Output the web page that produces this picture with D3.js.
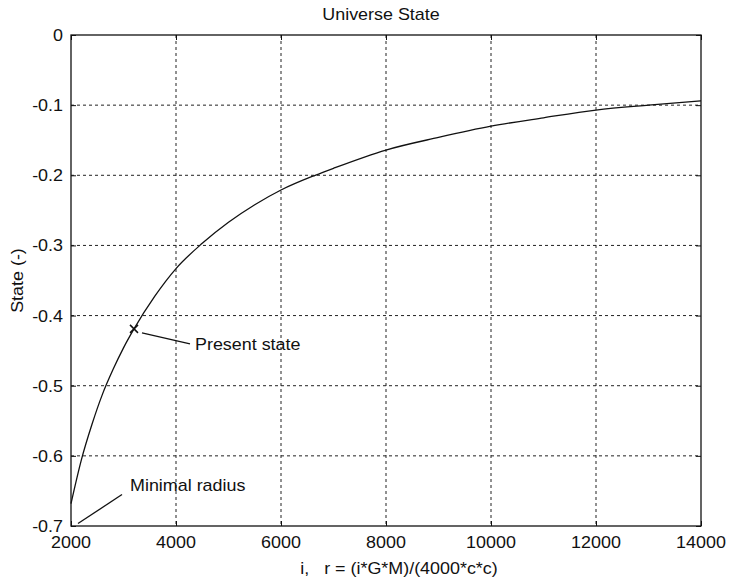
<!DOCTYPE html>
<html>
<head>
<meta charset="utf-8">
<script src="https://cdn.jsdelivr.net/npm/d3@7"></script>
<style>
  body { margin: 0; background: #fff; }
  svg { display: block; }
  text { font-family: "Liberation Sans", Arial, sans-serif; fill: #111; white-space: pre; }
</style>
</head>
<body>
<div id="chart"></div>
<script>
// values
const iValues = [2000, 2200, 2400, 2600, 2800, 3000, 3200, 3600, 4000, 4500, 5000, 5500, 6000, 6650, 7000, 8000, 9000, 10000, 11000, 12000, 13000, 14000];
const stateValues = [-0.668, -0.605, -0.555, -0.512, -0.477, -0.446, -0.419, -0.372, -0.333, -0.297, -0.267, -0.242, -0.221, -0.200, -0.190, -0.164, -0.146, -0.130, -0.118, -0.107, -0.100, -0.094];
const xTicks = [2000, 4000, 6000, 8000, 10000, 12000, 14000];
const yTicks = [0, -0.1, -0.2, -0.3, -0.4, -0.5, -0.6, -0.7];
const presentState = { i: 3200, state: -0.419 };
const minimalRadius = { i: 2000, state: -0.668 };

const W = 731, H = 581;
const margin = { top: 35, right: 30, bottom: 55, left: 71 };
const width = W - margin.left - margin.right;
const height = H - margin.top - margin.bottom;
const stretch = 1.12; // the scan is a bit wider than tall

const svg = d3.select('#chart')
  .append('svg')
  .attr('width', W)
  .attr('height', H);

const g = svg.append('g')
  .attr('transform', `translate(${margin.left},${margin.top})`);

const x = d3.scaleLinear().domain([2000, 14000]).range([0, width]);
const y = d3.scaleLinear().domain([-0.7, 0]).range([height, 0]);

function label(parent, tx, ty, str, anchor, size) {
  return parent.append('text')
    .attr('transform', `translate(${tx},${ty}) scale(${stretch},1)`)
    .attr('text-anchor', anchor || 'start')
    .attr('font-size', size || 16)
    .text(str);
}

// grid
g.append('g')
  .selectAll('line')
  .data(xTicks.slice(1, -1))
  .join('line')
  .attr('x1', d => x(d)).attr('x2', d => x(d))
  .attr('y1', 0).attr('y2', height)
  .attr('stroke', '#222')
  .attr('stroke-width', 1)
  .attr('stroke-dasharray', '3,3');

g.append('g')
  .selectAll('line')
  .data(yTicks.slice(1, -1))
  .join('line')
  .attr('y1', d => y(d)).attr('y2', d => y(d))
  .attr('x1', 0).attr('x2', width)
  .attr('stroke', '#222')
  .attr('stroke-width', 1)
  .attr('stroke-dasharray', '3,3');

// box
g.append('rect')
  .attr('width', width)
  .attr('height', height)
  .attr('fill', 'none')
  .attr('stroke', '#111')
  .attr('stroke-width', 1.3);

// ticks (inward, both sides)
const xAxisB = g.append('g')
  .attr('transform', `translate(0,${height})`)
  .call(d3.axisBottom(x).tickValues(xTicks).tickSize(-5).tickFormat(''));
const xAxisT = g.append('g')
  .call(d3.axisTop(x).tickValues(xTicks).tickSize(-5).tickFormat(''));
const yAxisL = g.append('g')
  .call(d3.axisLeft(y).tickValues(yTicks).tickSize(-5).tickFormat(''));
const yAxisR = g.append('g')
  .attr('transform', `translate(${width},0)`)
  .call(d3.axisRight(y).tickValues(yTicks).tickSize(-5).tickFormat(''));
[xAxisB, xAxisT, yAxisL, yAxisR].forEach(a => {
  a.select('.domain').remove();
  a.selectAll('line').attr('stroke', '#111');
});

// tick labels
const fmtY = d => d === 0 ? '0' : d3.format('.1f')(d).replace('\u2212', '-');
xTicks.forEach(d => label(g, x(d), height + 22, d, 'middle'));
yTicks.forEach(d => label(g, -8, y(d) + 6, fmtY(d), 'end'));

// curve
const pts = iValues.map((v, k) => [v, stateValues[k]]);
g.append('path')
  .datum(pts)
  .attr('fill', 'none')
  .attr('stroke', '#111')
  .attr('stroke-width', 1.3)
  .attr('d', d3.line().x(d => x(d[0])).y(d => y(d[1])).curve(d3.curveMonotoneX));

// present state marker
const px = x(presentState.i), py = y(presentState.state);
g.append('path')
  .attr('d', `M${px - 4},${py - 4}L${px + 4},${py + 4}M${px - 4},${py + 4}L${px + 4},${py - 4}`)
  .attr('stroke', '#111')
  .attr('stroke-width', 1.5);
g.append('line')
  .attr('x1', px + 8).attr('y1', py + 4)
  .attr('x2', px + 56).attr('y2', py + 15)
  .attr('stroke', '#111').attr('stroke-width', 1.3);
label(g, px + 61, py + 21, 'Present state', 'start');

// minimal radius annotation
const mx = x(minimalRadius.i), my = y(minimalRadius.state);
g.append('line')
  .attr('x1', mx + 7).attr('y1', my + 20)
  .attr('x2', mx + 51).attr('y2', my - 9)
  .attr('stroke', '#111').attr('stroke-width', 1.3);
label(g, mx + 59, my - 13, 'Minimal radius', 'start');

// title and axis labels
label(svg, margin.left + width / 2 - 5, 20, 'Universe State', 'middle');
label(svg, margin.left + width / 2 + 13, 574, 'i,   r = (i*G*M)/(4000*c*c)', 'middle');
svg.append('text')
  .attr('transform', `translate(23,${margin.top + height / 2}) rotate(-90) scale(${stretch},1)`)
  .attr('text-anchor', 'middle')
  .attr('font-size', 16)
  .text('State (-)');
</script>
</body>
</html>
